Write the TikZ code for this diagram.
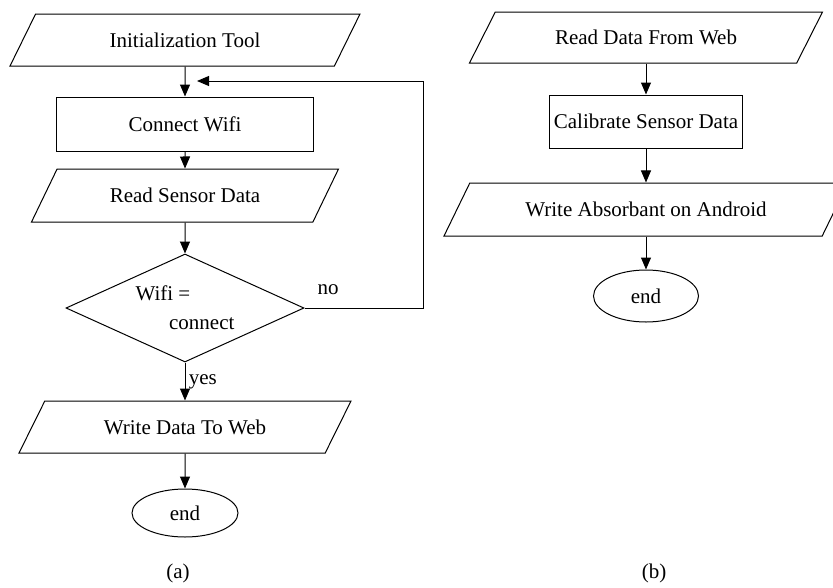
\documentclass[tikz,border=0pt]{standalone}
\usepackage{fontspec}
\setmainfont{Liberation Serif}
\usetikzlibrary{arrows.meta, shapes.geometric}

\begin{document}
\begin{tikzpicture}[x=1pt, y=-1pt, ->, >={Triangle[width=10pt, length=12pt]}, line width=1pt, font=\rmfamily\fontsize{21}{29}\selectfont,
	io/.style={draw, trapezium, trapezium left angle=30, trapezium right angle=150, trapezium stretches body, inner sep=0pt, minimum height=52pt},
	proc/.style={draw, rectangle, inner sep=0pt},
	cond/.style={draw, diamond, shape aspect=2.2, inner sep=0pt, align=left, minimum width=238pt, minimum height=108pt},
	term/.style={draw, ellipse, inner sep=0pt}]
		\useasboundingbox (0, 0) rectangle (833, 587);
		
		% (a) sending side
		\node[io, minimum width=350pt] (init) at (185, 40) {Initialization Tool};
		\node[proc, minimum width=257pt, minimum height=54pt] (wifi) at (185, 124) {Connect Wifi};
		\node[io, minimum width=307pt, minimum height=53pt] (sensor) at (185, 195.5) {Read Sensor Data};
		\node[cond] (check) at (185, 308) {Wifi =\\\hspace*{1.6em}connect};
		\node[io, minimum width=332pt] (send) at (185, 427) {Write Data To Web};
		\node[term, minimum width=106pt, minimum height=48pt] (enda) at (185, 513) {end};
		\coordinate (corner) at (423, 81);
		\coordinate (back) at (197, 81);
		\node (capa) at (178, 573) {(a)};
		
		% (b) receiving side
		\node[io, minimum width=353pt, minimum height=51pt] (web) at (646, 37.5) {Read Data From Web};
		\node[proc, minimum width=193pt, minimum height=53pt] (calib) at (646, 121.5) {Calibrate Sensor Data};
		\node[io, minimum width=404pt, minimum height=53pt] (absorb) at (646, 209.5) {Write Absorbant on Android};
		\node[term, minimum width=105pt, minimum height=52pt] (endb) at (646, 296) {end};
		\node (capb) at (654, 573) {(b)};
		
		\path (init) edge (wifi)
			(wifi) edge (sensor)
			(sensor) edge (check)
			(check) edge node[right] {yes} (send)
			(send) edge (enda)
			(web) edge (calib)
			(calib) edge (absorb)
			(absorb) edge (endb);
		\draw (check.east) -| node[pos=0.1, above, yshift=9pt] {no} (corner) -- (back);
	\end{tikzpicture}
\end{document}
